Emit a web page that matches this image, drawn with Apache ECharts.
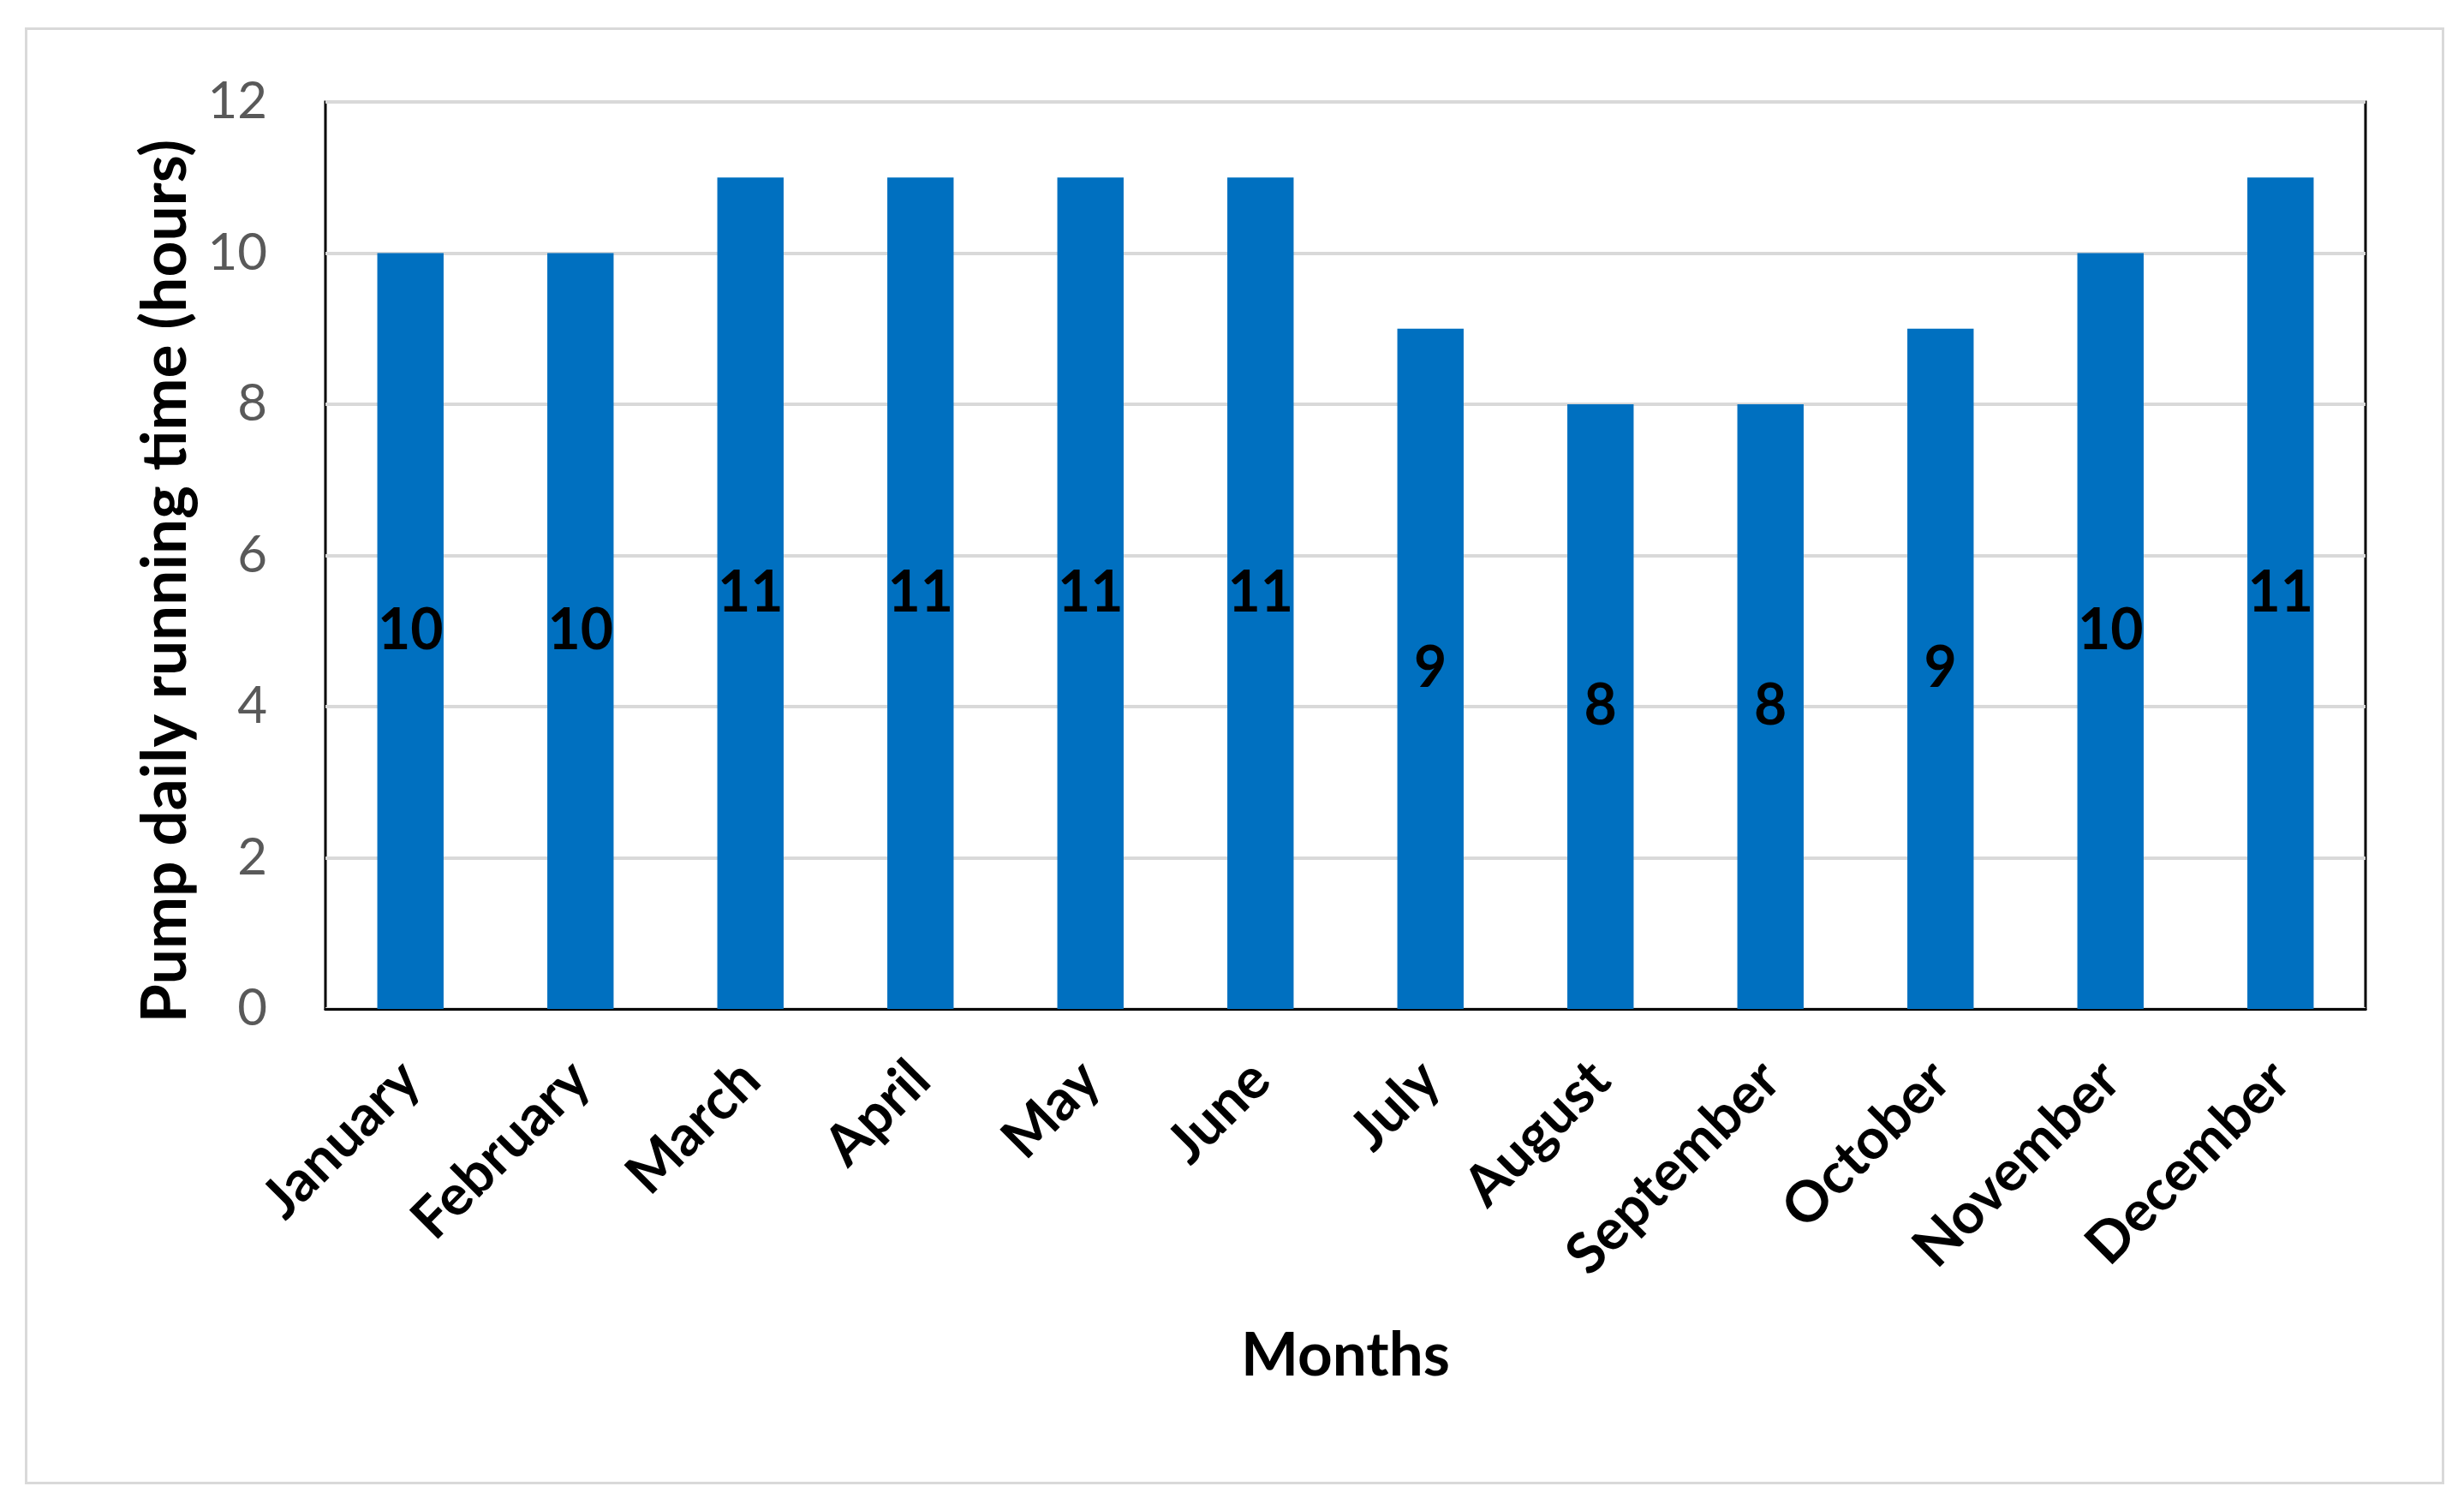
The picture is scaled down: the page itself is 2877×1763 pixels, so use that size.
<!DOCTYPE html>
<html>
<head>
<meta charset="utf-8">
<title>Pump daily running time</title>
<script src="https://cdn.jsdelivr.net/npm/echarts@6/dist/echarts.min.js"></script>
<style>
  html, body { margin: 0; padding: 0; background: #fff; }
  #chart { width: 2877px; height: 1763px; }
</style>
</head>
<body>
<div id="chart"></div>
<script>
// 数据
const months = ['January', 'February', 'March', 'April', 'May', 'June',
  'July', 'August', 'September', 'October', 'November', 'December'];
const runningHours = [10, 10, 11, 11, 11, 11, 9, 8, 8, 9, 10, 11];
const yTicks = [0, 2, 4, 6, 8, 10, 12];

const fontFamily = 'Lato, "Open Sans", sans-serif';
const chart = echarts.init(document.getElementById('chart'));

const option = {
  backgroundColor: '#fff',
  animation: false,
  // 外框
  graphic: [{
    type: 'rect',
    left: 28,
    top: 31,
    shape: { width: 2822, height: 1698 },
    style: { fill: 'none', stroke: '#d9d9d9', lineWidth: 3 },
    silent: true
  }],
  grid: {
    left: 380,
    right: 115,
    top: 119,
    bottom: 585,
    show: true,
    borderColor: '#000',
    borderWidth: 3
  },
  xAxis: {
    type: 'category',
    data: months,
    name: 'Months',
    nameLocation: 'middle',
    nameGap: 370,
    nameTextStyle: { fontFamily, fontWeight: 'bold', fontSize: 71, color: '#000' },
    axisLine: { show: true, lineStyle: { color: '#000', width: 3 } },
    axisTick: { show: false },
    axisLabel: {
      rotate: 45,
      interval: 0,
      margin: 72,
      fontFamily,
      fontWeight: 'bold',
      fontSize: 66,
      color: '#000'
    }
  },
  yAxis: {
    type: 'value',
    min: 0,
    max: 12,
    interval: 2,
    name: 'Pump daily running time (hours)',
    nameLocation: 'middle',
    nameGap: 150,
    // 右侧 padding 让标题略微下移
    nameTextStyle: { fontFamily, fontWeight: 'bold', fontSize: 73, color: '#000', padding: [0, 60, 0, 0] },
    axisLine: { show: false },
    axisTick: { show: false },
    axisLabel: {
      margin: 68,
      fontFamily,
      fontSize: 60,
      color: '#595959',
      formatter: v => (yTicks.includes(v) ? String(v) : '')
    },
    splitLine: { show: true, lineStyle: { color: '#d9d9d9', width: 4 } }
  },
  series: [{
    type: 'bar',
    data: runningHours,
    barWidth: '39%',
    itemStyle: { color: '#0070c0' },
    label: {
      show: true,
      position: 'inside',
      fontFamily,
      fontWeight: 'bold',
      fontSize: 66,
      color: '#000'
    }
  }]
};

chart.setOption(option);
</script>
</body>
</html>
